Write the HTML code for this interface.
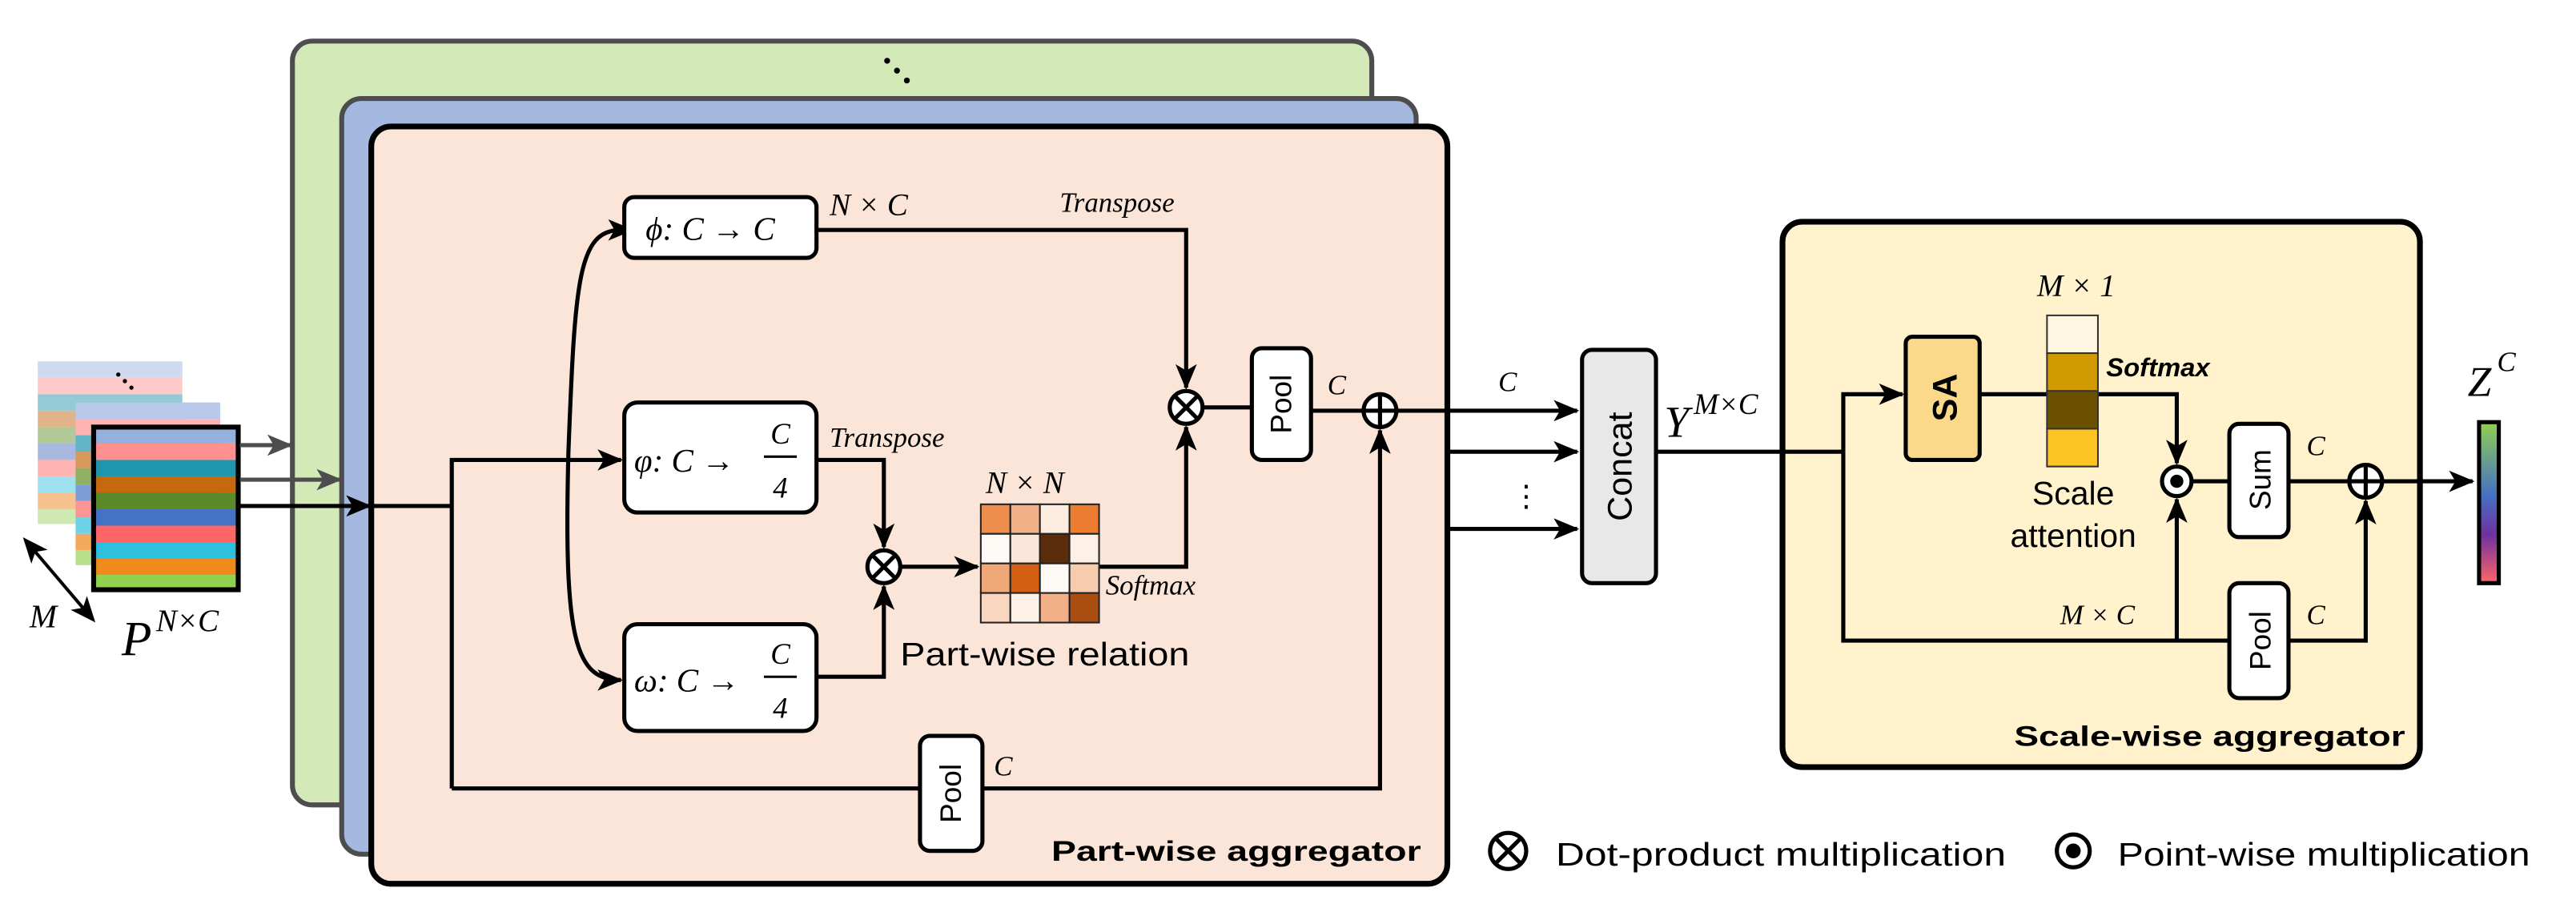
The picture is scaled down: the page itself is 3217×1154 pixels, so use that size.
<!DOCTYPE html>
<html><head><meta charset="utf-8"><style>
html,body{margin:0;padding:0;background:#fff}
svg{display:block}
text{font-family:"Liberation Sans","DejaVu Sans",sans-serif}
.m{font-family:"Liberation Serif","DejaVu Serif",serif;font-style:italic}
</style></head><body>
<svg width="3217" height="1154" viewBox="0 0 1568 562.5" preserveAspectRatio="none" xmlns="http://www.w3.org/2000/svg">
<defs>
<marker id="ag" viewBox="0 0 12 10" refX="11" refY="5" markerWidth="16" markerHeight="13" orient="auto" markerUnits="userSpaceOnUse">
<path d="M0,0 L12,5 L0,10 L3,5 Z" fill="#4d4d4d"/></marker>
<marker id="ab" viewBox="0 0 12 10" refX="11" refY="5" markerWidth="16" markerHeight="13" orient="auto" markerUnits="userSpaceOnUse">
<path d="M0,0 L12,5 L0,10 L3,5 Z" fill="#000"/></marker>
<marker id="as" viewBox="0 0 12 10" refX="6" refY="5" markerWidth="16" markerHeight="13" orient="auto-start-reverse" markerUnits="userSpaceOnUse">
<path d="M0,0 L12,5 L0,10 L3,5 Z" fill="#000"/></marker>
<linearGradient id="zg" x1="0" y1="0" x2="0" y2="1">
<stop offset="0" stop-color="#92d050"/><stop offset="0.45" stop-color="#4472c4"/><stop offset="0.7" stop-color="#7030a0"/><stop offset="1" stop-color="#ff6666"/></linearGradient>
</defs>

<rect x="178" y="25" width="657" height="465" rx="12" fill="#d3e9b7" stroke="#4d4d4d" stroke-width="3"/>
<rect x="208" y="60" width="654" height="460" rx="12" fill="#a4b8e0" stroke="#4d4d4d" stroke-width="3"/>
<rect x="226" y="77" width="655" height="461" rx="12" fill="#fae5d8" stroke="#000" stroke-width="3.5"/>
<circle cx="540" cy="37" r="1.8"/><circle cx="546" cy="43" r="1.8"/><circle cx="552" cy="49" r="1.8"/>

<g>
<rect x="23" y="220" width="88" height="10" fill="#cfdaf0"/><rect x="23" y="230" width="88" height="10" fill="#ffc9c9"/><rect x="23" y="240" width="88" height="10" fill="#94cad6"/><rect x="23" y="250" width="88" height="10" fill="#e0b488"/><rect x="23" y="260" width="88" height="10" fill="#b1c996"/><rect x="23" y="270" width="88" height="10" fill="#a8b9e0"/><rect x="23" y="280" width="88" height="10" fill="#ffb4b4"/><rect x="23" y="290" width="88" height="10" fill="#9ee0ee"/><rect x="23" y="300" width="88" height="10" fill="#f8c290"/><rect x="23" y="310" width="88" height="9" fill="#cde8b0"/>
<circle cx="72" cy="228" r="1.3"/><circle cx="76" cy="232" r="1.3"/><circle cx="80" cy="236" r="1.3"/>
<rect x="46" y="245" width="88" height="10" fill="#b8c8ea"/><rect x="46" y="255" width="88" height="10" fill="#ffb3b3"/><rect x="46" y="265" width="88" height="10" fill="#62b5c6"/><rect x="46" y="275" width="88" height="10" fill="#d7985a"/><rect x="46" y="285" width="88" height="10" fill="#90b066"/><rect x="46" y="295" width="88" height="10" fill="#7e9ed8"/><rect x="46" y="305" width="88" height="10" fill="#ff9494"/><rect x="46" y="315" width="88" height="10" fill="#6dd4e8"/><rect x="46" y="325" width="88" height="10" fill="#f4aa5e"/><rect x="46" y="335" width="88" height="9" fill="#b8e08a"/>
<rect x="57" y="260" width="88" height="10" fill="#95b0dc"/><rect x="57" y="270" width="88" height="10" fill="#ff9090"/><rect x="57" y="280" width="88" height="10" fill="#1f96ae"/><rect x="57" y="290" width="88" height="10" fill="#c5680e"/><rect x="57" y="300" width="88" height="10" fill="#5b8a28"/><rect x="57" y="310" width="88" height="10" fill="#4472c4"/><rect x="57" y="320" width="88" height="10" fill="#ff6666"/><rect x="57" y="330" width="88" height="10" fill="#2ec0dc"/><rect x="57" y="340" width="88" height="10" fill="#ef8a1b"/><rect x="57" y="350" width="88" height="9" fill="#92d050"/>
<rect x="57" y="260" width="88" height="99" fill="none" stroke="#000" stroke-width="3"/>
</g>
<line x1="19" y1="333" x2="53" y2="373" stroke="#000" stroke-width="2" marker-start="url(#as)" marker-end="url(#as)"/>
<text x="18" y="382" class="m" font-size="20">M</text>
<text x="74" y="399" class="m" font-size="30">P</text><text x="95" y="384" class="m" font-size="19">N×C</text>

<g fill="none" stroke-width="2.5">
<line x1="146" y1="271" x2="177" y2="271" stroke="#4d4d4d" marker-end="url(#ag)"/>
<line x1="146" y1="292" x2="207" y2="292" stroke="#4d4d4d" marker-end="url(#ag)"/>
<line x1="146" y1="308" x2="225" y2="308" stroke="#000" marker-end="url(#ab)"/>
</g>

<g fill="none" stroke="#000" stroke-width="2.5">
<polyline points="225,308 275,308"/>
<polyline points="275,480 275,280 378,280" marker-end="url(#ab)"/>
<polyline points="275,480 560,480"/>
<polyline points="598,480 840,480 840,262" marker-end="url(#ab)"/>
<path d="M378,140 C352,140 350,170 346,275 C343,390 350,414 378,414" marker-start="url(#as)" marker-end="url(#ab)"/>
<polyline points="497,140 722,140 722,236" marker-end="url(#ab)"/>
<polyline points="497,280 538,280 538,333" marker-end="url(#ab)"/>
<polyline points="497,412 538,412 538,357" marker-end="url(#ab)"/>
<polyline points="549,345 595,345" marker-end="url(#ab)"/>
<polyline points="668,345 722,345 722,260" marker-end="url(#ab)"/>
<polyline points="733,248 762,248"/>
<polyline points="798,250 829,250"/>
<polyline points="851,250 960,250" marker-end="url(#ab)"/>
<polyline points="880,275 960,275" marker-end="url(#ab)"/>
<polyline points="880,322 960,322" marker-end="url(#ab)"/>
</g>
<g fill="#fff" stroke="#000" stroke-width="2.5">
<rect x="380" y="120" width="117" height="37" rx="6"/>
<rect x="380" y="245" width="117" height="67" rx="8"/>
<rect x="380" y="380" width="117" height="65" rx="8"/>
<rect x="560" y="448" width="38" height="70" rx="6"/>
<rect x="762" y="212" width="36" height="68" rx="6"/>
</g>
<text x="393" y="146" class="m" font-size="20">ϕ: C → C</text>
<text x="386" y="287" class="m" font-size="20">φ: C →</text><text x="475" y="270" class="m" font-size="18" text-anchor="middle">C</text><line x1="465" y1="278" x2="485" y2="278" stroke="#000" stroke-width="1.5"/><text x="475" y="303" class="m" font-size="18" text-anchor="middle">4</text>
<text x="386" y="421" class="m" font-size="20">ω: C →</text><text x="475" y="404" class="m" font-size="18" text-anchor="middle">C</text><line x1="465" y1="412" x2="485" y2="412" stroke="#000" stroke-width="1.5"/><text x="475" y="437" class="m" font-size="18" text-anchor="middle">4</text>
<text x="585" y="483" font-size="18" transform="rotate(-90 585 483)" text-anchor="middle">Pool</text>
<text x="786" y="246" font-size="18" transform="rotate(-90 786 246)" text-anchor="middle">Pool</text>
<text x="505" y="131" class="m" font-size="19">N × C</text>
<text x="645" y="129" class="m" font-size="17">Transpose</text>
<text x="505" y="272" class="m" font-size="17">Transpose</text>
<text x="605" y="472" class="m" font-size="17">C</text>
<text x="808" y="240" class="m" font-size="17">C</text>
<text x="912" y="238" class="m" font-size="17">C</text>
<text x="920" y="308" font-size="18">⋮</text>

<g stroke="#222" stroke-width="1">
<rect x="597" y="307" width="18" height="18" fill="#ed8e4e"/><rect x="615" y="307" width="18" height="18" fill="#f2b088"/><rect x="633" y="307" width="18" height="18" fill="#fdece0"/><rect x="651" y="307" width="18" height="18" fill="#ec7d30"/>
<rect x="597" y="325" width="18" height="18" fill="#fefaf6"/><rect x="615" y="325" width="18" height="18" fill="#fae6d8"/><rect x="633" y="325" width="18" height="18" fill="#5a2c0c"/><rect x="651" y="325" width="18" height="18" fill="#fdf0e6"/>
<rect x="597" y="343" width="18" height="18" fill="#f0a878"/><rect x="615" y="343" width="18" height="18" fill="#d26012"/><rect x="633" y="343" width="18" height="18" fill="#fefaf6"/><rect x="651" y="343" width="18" height="18" fill="#f6cbae"/>
<rect x="597" y="361" width="18" height="18" fill="#f8d6c0"/><rect x="615" y="361" width="18" height="18" fill="#fdf1e8"/><rect x="633" y="361" width="18" height="18" fill="#f2b088"/><rect x="651" y="361" width="18" height="18" fill="#a84e10"/>
</g>
<text x="600" y="300" class="m" font-size="19">N × N</text>
<text x="673" y="362" class="m" font-size="17">Softmax</text>
<text x="548" y="405" font-size="20" textLength="176" lengthAdjust="spacingAndGlyphs">Part-wise relation</text>
<text x="640" y="524" font-size="17" font-weight="bold" textLength="225" lengthAdjust="spacingAndGlyphs">Part-wise aggregator</text>

<g fill="#fff" stroke="#000" stroke-width="2.5">
<circle cx="722" cy="248" r="10"/><circle cx="538" cy="345" r="10"/><circle cx="840" cy="250" r="10"/>
<circle cx="918" cy="518" r="11"/><circle cx="1262" cy="518" r="10"/>
</g>
<g stroke="#000" stroke-width="2.5">
<path d="M715,241 L729,255 M729,241 L715,255"/>
<path d="M531,338 L545,352 M545,338 L531,352"/>
<path d="M830,250 L850,250 M840,240 L840,260"/>
<path d="M910,510 L926,526 M926,510 L910,526"/>
</g>
<circle cx="1262" cy="518" r="4.5" fill="#000"/>
<text x="947" y="527" font-size="20" textLength="274" lengthAdjust="spacingAndGlyphs">Dot-product multiplication</text>
<text x="1289" y="527" font-size="20" textLength="251" lengthAdjust="spacingAndGlyphs">Point-wise multiplication</text>

<rect x="963" y="213" width="45" height="142" rx="6" fill="#e8e8e8" stroke="#000" stroke-width="2.5"/>
<text x="993" y="284" font-size="21" transform="rotate(-90 993 284)" text-anchor="middle">Concat</text>
<text x="1013" y="266" class="m" font-size="27">Y</text><text x="1031" y="252" class="m" font-size="18">M×C</text>

<rect x="1085" y="135" width="388" height="332" rx="12" fill="#fff2cc" stroke="#000" stroke-width="3.5"/>
<g fill="none" stroke="#000" stroke-width="2.5">
<polyline points="1008,275 1122,275"/>
<polyline points="1122,275 1122,240 1158,240" marker-end="url(#ab)"/>
<polyline points="1122,275 1122,390 1357,390"/>
<polyline points="1393,390 1440,390 1440,305" marker-end="url(#ab)"/>
<polyline points="1325,390 1325,304" marker-end="url(#ab)"/>
<polyline points="1205,240 1325,240 1325,282" marker-end="url(#ab)"/>
<polyline points="1334,293 1357,293"/>
<polyline points="1393,293 1430,293"/>
<polyline points="1450,293 1505,293" marker-end="url(#ab)"/>
</g>
<rect x="1160" y="205" width="45" height="75" rx="4" fill="#fbd98a" stroke="#000" stroke-width="2.5"/>
<text x="1191" y="242" font-size="21" font-weight="bold" transform="rotate(-90 1191 242)" text-anchor="middle">SA</text>
<g stroke="#333" stroke-width="1">
<rect x="1246" y="192" width="31" height="23" fill="#fff6e2"/><rect x="1246" y="215" width="31" height="23" fill="#d09a00"/><rect x="1246" y="238" width="31" height="23" fill="#6b5000"/><rect x="1246" y="261" width="31" height="23" fill="#fec423"/>
</g>
<text x="1240" y="180" class="m" font-size="19">M × 1</text>
<text x="1282" y="229" font-size="16" font-weight="bold" font-style="italic">Softmax</text>
<text x="1262" y="307" font-size="20" text-anchor="middle">Scale</text>
<text x="1262" y="333" font-size="20" text-anchor="middle">attention</text>
<g fill="#fff" stroke="#000" stroke-width="2.5">
<rect x="1357" y="258" width="36" height="69" rx="6"/>
<rect x="1357" y="355" width="36" height="70" rx="6"/>
<circle cx="1325" cy="293" r="9"/><circle cx="1440" cy="293" r="10"/>
</g>
<path d="M1430,293 L1450,293 M1440,283 L1440,303" stroke="#000" stroke-width="2.5"/>
<circle cx="1325" cy="293" r="4" fill="#000"/>
<text x="1382" y="292" font-size="18" transform="rotate(-90 1382 292)" text-anchor="middle">Sum</text>
<text x="1382" y="390" font-size="18" transform="rotate(-90 1382 390)" text-anchor="middle">Pool</text>
<text x="1404" y="277" class="m" font-size="17">C</text>
<text x="1404" y="380" class="m" font-size="17">C</text>
<text x="1254" y="380" class="m" font-size="17">M × C</text>
<text x="1226" y="454" font-size="17" font-weight="bold" textLength="238" lengthAdjust="spacingAndGlyphs">Scale-wise aggregator</text>
<rect x="1509" y="257" width="12" height="98" fill="url(#zg)" stroke="#000" stroke-width="2.5"/>
<text x="1502" y="241" class="m" font-size="26">Z</text><text x="1520" y="226" class="m" font-size="17">C</text>
</svg>
</body></html>
